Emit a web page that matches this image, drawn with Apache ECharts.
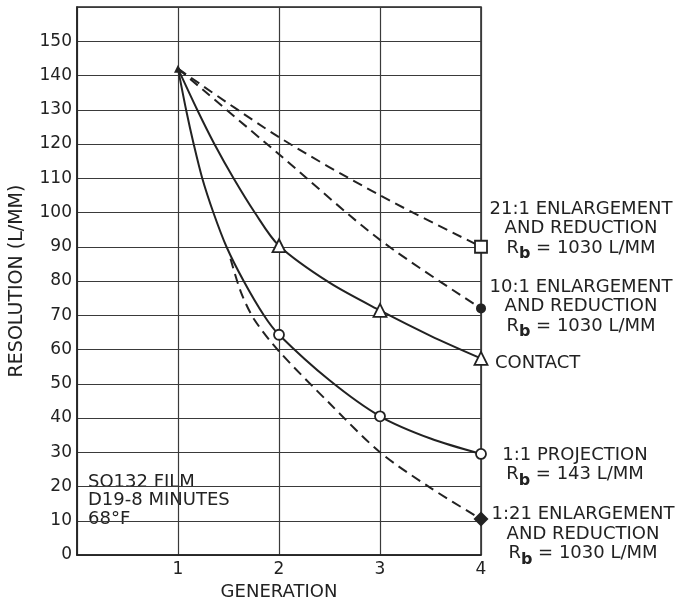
<!DOCTYPE html>
<html>
<head>
<meta charset="utf-8">
<title>Resolution vs generation</title>
<script src="https://cdn.jsdelivr.net/npm/echarts@6/dist/echarts.min.js"></script>
<style>
  html, body { margin: 0; padding: 0; background: #fff; }
  #chart { width: 679px; height: 600px; }
</style>
</head>
<body>
<div id="chart"></div>
<script>
// values
const generationTicks = [1, 2, 3, 4]
const yMax = 160

// curves: [generation, resolution L/MM]
const ratio21Curve = [[1, 142], [2, 122], [3, 105], [4, 90]]
const ratio10Curve = [[1, 142], [2, 117], [3, 92], [4, 72]]
const contactCurve = [[1, 142], [1.19, 130], [1.36, 120], [1.55, 110], [1.76, 100], [2, 90.3], [2.5, 79.5], [3, 71.4], [3.5, 64], [4, 57.4]]
const projectionCurve = [[1, 142], [1.08, 130], [1.155, 120], [1.24, 110], [1.35, 100], [1.48, 90], [1.65, 80], [1.85, 70], [2, 64.3], [2.5, 51], [3, 40.5], [3.5, 34], [4, 29.5]]
const ratio121Curve = [[1.52, 86.5], [1.62, 77], [1.75, 69], [2, 59.5], [2.5, 44.3], [3, 30], [3.5, 19.6], [4, 10.5]]

// plotted markers
const contactPoints = [[2, 90.3], [3, 71.4], [4, 57.4]]
const projectionPoints = [[2, 64.3], [3, 40.5], [4, 29.5]]
const ratio21End = [[4, 90]]
const ratio10End = [[4, 72]]
const ratio121End = [[4, 10.5]]
const startPoint = [[1, 142]]

const ink = '#222'
const font = 'DejaVu Sans'

const chart = echarts.init(document.getElementById('chart'))

const subRich = {
  r: { fontSize: 18, lineHeight: 19.5, fontFamily: font, color: ink },
  b: { fontSize: 16, lineHeight: 19.5, fontFamily: font, color: ink, fontWeight: 'bold', padding: [12, 0, 0, 0] }
}

function lineSeries(data, dashed) {
  return {
    type: 'line',
    data: data,
    smooth: 0.3,
    symbol: 'none',
    silent: true,
    lineStyle: { color: ink, width: 2, type: dashed ? [10, 6] : 'solid' },
    z: 3
  }
}

function markSeries(data, symbol, size, filled, label) {
  return {
    type: 'scatter',
    data: data,
    symbol: symbol,
    symbolSize: size,
    itemStyle: { color: filled ? ink : '#fff', borderColor: ink, borderWidth: filled ? 0 : 1.8, opacity: 1 },
    label: label || { show: false },
    z: 5
  }
}

function endLabel(lines, offset, align) {
  return {
    show: true,
    position: 'inside',
    offset: offset,
    align: align || 'center',
    verticalAlign: 'middle',
    fontFamily: font,
    fontSize: 18,
    lineHeight: 19.5,
    color: ink,
    formatter: () => lines.join('\n'),
    rich: subRich
  }
}

const option = {
  backgroundColor: '#fff',
  animation: false,
  grid: {
    left: 77, right: 198, top: 7, bottom: 45,
    outerBoundsMode: 'none',
    show: true, borderColor: ink, borderWidth: 1.5, backgroundColor: 'transparent'
  },
  xAxis: {
    type: 'value',
    min: 0, max: 4, interval: 1,
    name: 'GENERATION',
    nameLocation: 'middle',
    nameGap: 23,
    nameTextStyle: { fontFamily: font, fontSize: 18, color: ink },
    axisLine: { show: true, lineStyle: { color: ink, width: 1.5 } },
    axisTick: { show: false },
    axisLabel: {
      margin: 6, fontFamily: font, fontSize: 17, color: ink,
      formatter: v => generationTicks.includes(v) ? String(v) : ''
    },
    splitLine: { show: true, lineStyle: { color: '#3a3a3a', width: 1.2 } }
  },
  yAxis: {
    type: 'value',
    min: 0, max: yMax, interval: 10,
    name: 'RESOLUTION (L/MM)',
    nameLocation: 'middle',
    nameRotate: 90,
    nameGap: 50,
    nameTextStyle: { fontFamily: font, fontSize: 19, color: ink },
    axisLine: { show: true, lineStyle: { color: ink, width: 1.5 } },
    axisTick: { show: false },
    axisLabel: {
      margin: 5, fontFamily: font, fontSize: 17, color: ink,
      formatter: v => v === yMax ? '' : String(v)
    },
    splitLine: { show: true, lineStyle: { color: '#3a3a3a', width: 1.2 } }
  },
  graphic: [
    {
      type: 'group',
      left: 84,
      top: 467,
      children: [
        { type: 'rect', shape: { x: 0, y: 0, width: 149, height: 61 }, style: { fill: '#fff' } },
        {
          type: 'text',
          x: 4, y: 6,
          style: {
            text: 'SO132 FILM\nD19-8 MINUTES\n68°F',
            font: '18px "DejaVu Sans"',
            lineHeight: 18.5,
            fill: ink
          }
        }
      ]
    }
  ],
  series: [
    lineSeries(ratio21Curve, true),
    lineSeries(ratio10Curve, true),
    lineSeries(contactCurve, false),
    lineSeries(projectionCurve, false),
    lineSeries(ratio121Curve, true),
    markSeries(ratio21End, 'rect', 12, false,
      endLabel(['21:1 ENLARGEMENT', 'AND REDUCTION', '{r|R}{b|b}{r| = 1030 L/MM}'], [100, -18])),
    markSeries(ratio10End, 'circle', 10, true,
      endLabel(['10:1 ENLARGEMENT', 'AND REDUCTION', '{r|R}{b|b}{r| = 1030 L/MM}'], [100, -2])),
    markSeries(contactPoints.slice(0, 2), 'triangle', 13, false),
    markSeries(contactPoints.slice(2), 'triangle', 13, false,
      endLabel(['CONTACT'], [14, 5], 'left')),
    markSeries(projectionPoints.slice(0, 2), 'circle', 10, false),
    markSeries(projectionPoints.slice(2), 'circle', 10, false,
      endLabel(['1:1 PROJECTION', '{r|R}{b|b}{r| = 143 L/MM}'], [94, 11])),
    markSeries(ratio121End, 'diamond', 15, true,
      endLabel(['1:21 ENLARGEMENT', 'AND REDUCTION', '{r|R}{b|b}{r| = 1030 L/MM}'], [102, 15])),
    // converging tip at the first generation
    markSeries(startPoint, 'triangle', 8, true)
  ]
}

chart.setOption(option)
</script>
</body>
</html>
